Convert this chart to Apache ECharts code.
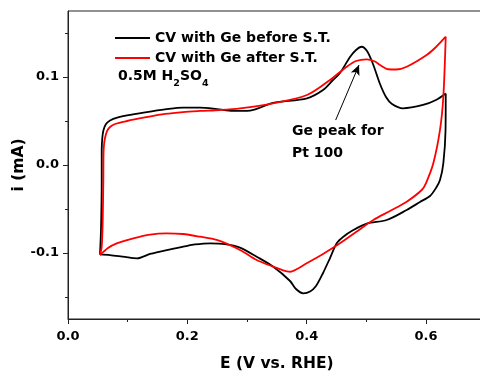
<!DOCTYPE html>
<html>
<head>
<meta charset="utf-8">
<script src="https://cdn.jsdelivr.net/npm/echarts@6/dist/echarts.min.js"></script>
<style>html,body{margin:0;padding:0;background:#fff;}#c{width:480px;height:375px;}</style>
</head>
<body>
<div id="c"></div>
<script>
const seriesNames = ['CV with Ge before S.T.', 'CV with Ge after S.T.'];
const xTicks = [0.0, 0.2, 0.4, 0.6];
const xMinorTicks = [0.1, 0.3, 0.5];
const yTicks = [-0.1, 0.0, 0.1];
const yMinorTicks = [-0.15, -0.05, 0.05, 0.15];
const xRange = [0, 0.7];
const yRange = [-0.175, 0.175];

// E (V vs. RHE), i (mA) — CV before surface treatment, anodic sweep
const beforeAnodic = [
  [0.0536,-0.1015],[0.0553,-0.0739],[0.0565,-0.0170],[0.0565,0.0170],[0.0575,0.0307],
  [0.0595,0.0398],[0.0637,0.0466],[0.0704,0.0506],[0.0838,0.0540],[0.0989,0.0563],
  [0.1290,0.0597],[0.1626,0.0631],[0.1927,0.0653],[0.2212,0.0653],[0.2497,0.0636],
  [0.2765,0.0614],[0.3050,0.0619],[0.3436,0.0705],[0.4005,0.0758],[0.4274,0.0852],
  [0.4441,0.0966],[0.4558,0.1045],[0.4726,0.1227],[0.4827,0.1307],[0.4922,0.1344],
  [0.5011,0.1295],[0.5111,0.1148],[0.5229,0.0920],[0.5329,0.0773],[0.5430,0.0693],
  [0.5614,0.0644],[0.5949,0.0682],[0.6167,0.0739],[0.6330,0.0813]
];
// before surface treatment, cathodic sweep
const beforeCathodic = [
  [0.6330,0.0813],[0.6327,0.0398],[0.6290,0.0019],[0.6234,-0.0170],[0.6167,-0.0261],
  [0.6067,-0.0352],[0.5899,-0.0420],[0.5676,-0.0511],
  [0.5341,-0.0625],[0.5006,-0.0665],[0.4781,-0.0739],[0.4609,-0.0818],[0.4503,-0.0890],
  [0.4391,-0.1057],[0.4274,-0.1227],[0.4156,-0.1375],[0.4056,-0.1438],[0.3943,-0.1458],
  [0.3821,-0.1409],[0.3721,-0.1318],[0.3441,-0.1156],[0.3162,-0.1042],[0.2883,-0.0938],
  [0.2631,-0.0898],[0.2380,-0.0890],[0.2128,-0.0903],[0.1932,-0.0928],[0.1654,-0.0966],
  [0.1374,-0.1011],[0.1156,-0.1060],[0.0955,-0.1045],[0.0704,-0.1023],[0.0536,-0.1015]
];

// CV after surface treatment, anodic sweep
const afterAnodic = [
  [0.0536,-0.1023],[0.0565,-0.0928],[0.0582,-0.0625],[0.0592,-0.0170],[0.0595,0.0114],
  [0.0603,0.0227],[0.0620,0.0307],[0.0654,0.0386],[0.0704,0.0432],[0.0788,0.0466],
  [0.0989,0.0500],[0.1290,0.0540],[0.1626,0.0580],[0.1927,0.0602],[0.2212,0.0614],
  [0.2547,0.0625],[0.2883,0.0644],[0.3436,0.0701],[0.4005,0.0795],[0.4391,0.0966],
  [0.4671,0.1117],[0.4827,0.1182],[0.5006,0.1201],[0.5145,0.1176],[0.5229,0.1136],
  [0.5368,0.1088],[0.5497,0.1085],[0.5676,0.1117],[0.6011,0.1250],[0.6167,0.1341],
  [0.6330,0.1458]
];
// after surface treatment, cathodic sweep
const afterCathodic = [
  [0.6330,0.1458],[0.6290,0.0776],[0.6234,0.0398],[0.6122,0.0019],[0.6000,-0.0205],
  [0.5928,-0.0284],[0.5676,-0.0417],[0.5396,-0.0523],[0.5117,-0.0625],[0.4827,-0.0761],
  [0.4558,-0.0890],[0.4274,-0.1011],[0.4000,-0.1117],[0.3855,-0.1176],[0.3721,-0.1213],
  [0.3586,-0.1193],[0.3441,-0.1156],[0.3162,-0.1080],[0.2883,-0.0966],[0.2492,-0.0852],
  [0.2212,-0.0815],[0.1927,-0.0784],[0.1654,-0.0776],[0.1374,-0.0790],[0.1094,-0.0833],
  [0.0816,-0.0890],[0.0670,-0.0943],[0.0536,-0.1023]
];

const arrowFrom = [0.4486, 0.0511];
const arrowTo = [0.4877, 0.1136];

const FONT = "'DejaVu Sans', sans-serif";
const chart = echarts.init(document.getElementById('c'), null, {renderer: 'canvas'});
const fmt = v => (Math.abs(v) < 1e-9 ? 0 : v).toFixed(1);

function curve(name, data, color, extra) {
  return Object.assign({
    name: name, type: 'line', data: data, showSymbol: false, symbol: 'none',
    smooth: 0.3, color: color, lineStyle: {color: color, width: 1.8}
  }, extra || {});
}

chart.setOption({
  animation: false,
  backgroundColor: '#fff',
  grid: {left: 68, top: 11, right: -5.7, bottom: 56, containLabel: false, outerBoundsMode: 'none',
         show: true, borderColor: '#222', borderWidth: 1},
  legend: {
    orient: 'vertical', left: 110, top: 26, itemWidth: 35, itemHeight: 2, itemGap: 6,
    icon: 'rect', data: seriesNames,
    textStyle: {fontFamily: FONT, fontWeight: 'bold', fontSize: 14, lineHeight: 14, color: '#000'}
  },
  xAxis: [{
    type: 'value', min: xRange[0], max: xRange[1], position: 'bottom',
    name: 'E (V vs. RHE)', nameLocation: 'middle', nameGap: 37, nameMoveOverlap: false,
    nameTextStyle: {fontFamily: FONT, fontWeight: 'bold', fontSize: 15.5, color: '#000'},
    axisLine: {show: true, onZero: false, lineStyle: {color: '#222', width: 1}},
    axisTick: {show: true, length: 5, customValues: xTicks, lineStyle: {color: '#222'}},
    axisLabel: {customValues: xTicks, formatter: fmt, margin: 11,
                fontFamily: FONT, fontWeight: 'bold', fontSize: 13, color: '#000'},
    splitLine: {show: false}
  }, {
    type: 'value', min: xRange[0], max: xRange[1], position: 'bottom', gridIndex: 0,
    axisLine: {show: false, onZero: false}, axisLabel: {show: false}, splitLine: {show: false},
    axisTick: {show: true, length: 3, customValues: xMinorTicks, lineStyle: {color: '#222'}}
  }],
  yAxis: [{
    type: 'value', min: yRange[0], max: yRange[1], position: 'left',
    name: 'i (mA)', nameLocation: 'middle', nameGap: 41, nameMoveOverlap: false,
    nameTextStyle: {fontFamily: FONT, fontWeight: 'bold', fontSize: 15.5, color: '#000'},
    axisLine: {show: true, onZero: false, lineStyle: {color: '#222', width: 1}},
    axisTick: {show: true, length: 5, customValues: yTicks, lineStyle: {color: '#222'}},
    axisLabel: {customValues: yTicks, formatter: fmt, margin: 9,
                fontFamily: FONT, fontWeight: 'bold', fontSize: 13, color: '#000'},
    splitLine: {show: false}
  }, {
    type: 'value', min: yRange[0], max: yRange[1], position: 'left', offset: 0, gridIndex: 0,
    axisLine: {show: false, onZero: false}, axisLabel: {show: false}, splitLine: {show: false},
    axisTick: {show: true, length: 3, customValues: yMinorTicks, lineStyle: {color: '#222'}}
  }],
  series: [
    curve(seriesNames[0], beforeAnodic, '#000', {
      markLine: {
        silent: true, symbol: ['none', 'arrow'], symbolSize: [7, 10],
        label: {show: false},
        lineStyle: {color: '#000', width: 1, type: 'solid'},
        data: [[{coord: arrowFrom}, {coord: arrowTo}]]
      }
    }),
    curve(seriesNames[0], beforeCathodic, '#000'),
    curve(seriesNames[1], afterAnodic, '#ff0000'),
    curve(seriesNames[1], afterCathodic, '#ff0000')
  ],
  graphic: [{
    type: 'text', left: 118, top: 69,
    style: {
      text: '{a|0.5M H}{s|2}{a|SO}{s|4}',
      rich: {
        a: {fontFamily: FONT, fontWeight: 'bold', fontSize: 14, lineHeight: 14, padding: [0, 0, 6, 0], verticalAlign: 'bottom', fill: '#000'},
        s: {fontFamily: FONT, fontWeight: 'bold', fontSize: 9.5, lineHeight: 9, verticalAlign: 'bottom', fill: '#000'}
      }
    }
  }, {
    type: 'text', left: 292, top: 120,
    style: {text: 'Ge peak for\nPt 100', fontFamily: FONT, fontWeight: 'bold', fontSize: 14, lineHeight: 22, fill: '#000'}
  }]
});
</script>
</body>
</html>
